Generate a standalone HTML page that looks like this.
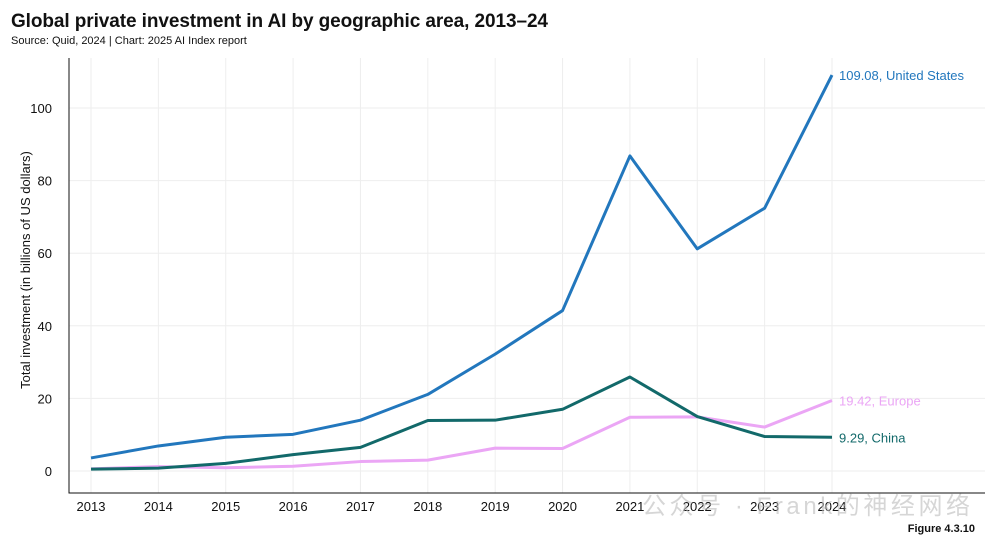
<!DOCTYPE html>
<html><head><meta charset="utf-8">
<style>
body{margin:0;background:#fff;font-family:"Liberation Sans","Noto Sans CJK SC",sans-serif;}
#wrap{position:relative;width:1001px;height:546px;overflow:hidden;}
</style></head>
<body>
<div id="wrap">
<svg id="chart" width="1001" height="546" xmlns="http://www.w3.org/2000/svg">
<text x="11" y="27" font-size="19" font-weight="bold" fill="#111" textLength="537">Global private investment in AI by geographic area, 2013–24</text>
<text x="11" y="44" font-size="11" fill="#111">Source: Quid, 2024 | Chart: 2025 AI Index report</text>
<text x="975" y="532" font-size="11" font-weight="bold" fill="#111" text-anchor="end">Figure 4.3.10</text>
<text x="30" y="270" font-size="13" fill="#111" text-anchor="middle" transform="rotate(-90 30 270)">Total investment (in billions of US dollars)</text>
<g id="grid"></g><g id="axes"></g><g id="series"></g>
<text x="642" y="514" font-size="24" fill="#bbb" opacity="0.6" textLength="328">公众号 · Frank的神经网络</text>
</svg>
</div>
<script>
const years=[2013,2014,2015,2016,2017,2018,2019,2020,2021,2022,2023,2024];
const usValues=[3.6,6.9,9.3,10.1,14.0,21.1,32.2,44.2,86.8,61.2,72.4,109.08];
const chinaValues=[0.5,0.8,2.1,4.5,6.5,13.9,14.0,17.0,25.9,15.0,9.5,9.29];
const europeValues=[0.6,1.2,0.9,1.3,2.6,3.0,6.3,6.2,14.8,14.9,12.1,19.42];
const yTicks=[0,20,40,60,80,100];
const seriesNames=["United States","Europe","China"];
const NS="http://www.w3.org/2000/svg";
const x=i=>91+i*(832-91)/(years.length-1);
const y=v=>471-v*3.63;
function mk(tag,attrs,parent){const e=document.createElementNS(NS,tag);for(const k in attrs)e.setAttribute(k,attrs[k]);document.getElementById(parent).appendChild(e);return e;}
yTicks.forEach(t=>{
  const g=mk('line',{x1:69,x2:985,y1:y(t),y2:y(t),stroke:'#eee','stroke-width':1},'grid');
  
  
  const l=mk('text',{x:52,y:y(t)+5,'font-size':13,fill:'#111','text-anchor':'end'},'axes');l.textContent=t;
  
  
});
years.forEach((yr,i)=>{
  const g=mk('line',{x1:x(i),x2:x(i),y1:58,y2:493,stroke:'#eee','stroke-width':1},'grid');
  
  
  const l=mk('text',{x:x(i),y:511,'font-size':13,fill:'#111','text-anchor':'middle'},'axes');l.textContent=yr;
  
  
});
const ax=mk('path',{d:'M69 58 V493 H985',stroke:'#111',fill:'none','stroke-width':1},'axes');


function series(vals,color,label,name){
  const p=mk('polyline',{points:vals.map((v,i)=>x(i)+','+y(v)).join(' '),fill:'none',stroke:color,'stroke-width':3,'stroke-linejoin':'round'},'series');
  
  
  const last=vals[vals.length-1];
  const t=mk('text',{x:839,y:y(last)+5,'font-size':13,fill:color},'series');
  t.textContent=last.toFixed(2)+', '+label;
  
  
}
series(europeValues,'#eba6f5',seriesNames[1],'europe');
series(chinaValues,'#12696a',seriesNames[2],'china');
series(usValues,'#2277bd',seriesNames[0],'united-states');
</script>
</body></html>
